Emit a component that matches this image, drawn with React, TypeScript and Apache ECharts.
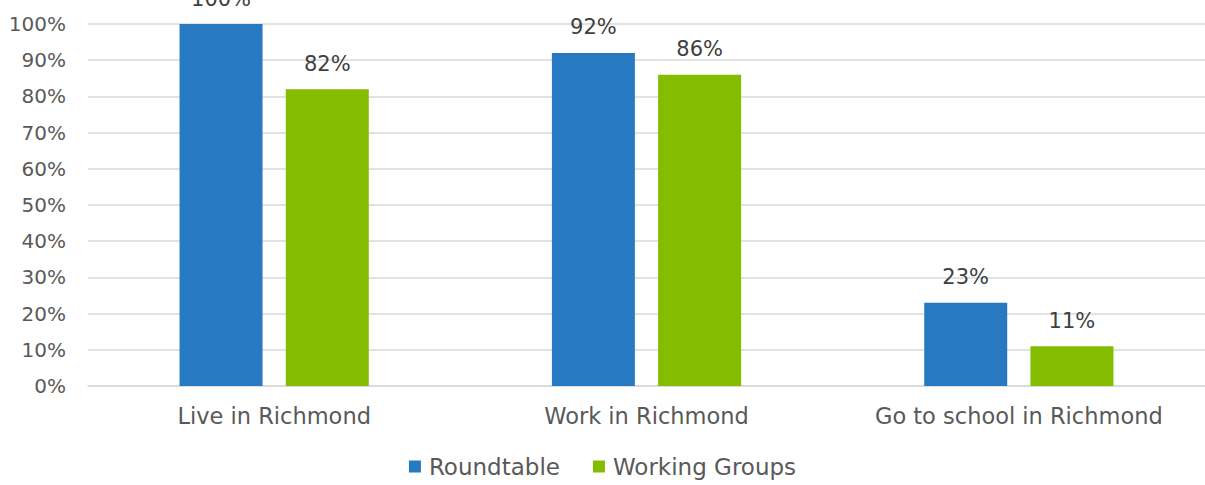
import React, { useEffect, useRef } from "react";
import * as echarts from "echarts";

const categories = ["Live in Richmond", "Work in Richmond", "Go to school in Richmond"];
const roundtable = [100, 92, 23];
const workingGroups = [82, 86, 11];
const seriesNames = ["Roundtable", "Working Groups"];

const FONT = "DejaVu Sans";
const TEXT = "#595959";

export default function App() {
  const ref = useRef<HTMLDivElement>(null);
  useEffect(() => {
    if (!ref.current) return;
    const chart = echarts.init(ref.current, null, { renderer: "svg" });
    const label = {
      show: true,
      position: "top",
      distance: 15,
      formatter: "{c}%",
      color: "#404040",
      fontFamily: FONT,
      fontSize: 21,
    };
    chart.setOption({
      animation: false,
      textStyle: { fontFamily: FONT },
      grid: { left: 88, width: 1121, top: 24, bottom: 99 },
      legend: {
        bottom: 2,
        left: "center",
        itemWidth: 12,
        itemHeight: 12,
        itemGap: 33,
        icon: "rect",
        textStyle: { color: TEXT, fontSize: 23, fontFamily: FONT, padding: [0, 0, 0, 3] },
        data: seriesNames,
      },
      xAxis: {
        type: "category",
        data: categories,
        axisLine: { lineStyle: { color: "#D9D9D9", width: 1.5 } },
        axisTick: { show: false },
        axisLabel: { color: TEXT, fontSize: 22.5, fontFamily: FONT, margin: 18, interval: 0 },
      },
      yAxis: {
        type: "value",
        min: 0,
        max: 100,
        interval: 10,
        axisLine: { show: false },
        axisTick: { show: false },
        splitLine: { lineStyle: { color: "#D9D9D9", width: 1.5 } },
        axisLabel: { color: TEXT, fontSize: 20, fontFamily: FONT, margin: 22, formatter: "{value}%" },
      },
      series: [
        {
          name: seriesNames[0],
          type: "bar",
          data: roundtable,
          barWidth: 83,
          barGap: "28%",
          itemStyle: { color: "#2779C2" },
          label,
        },
        {
          name: seriesNames[1],
          type: "bar",
          data: workingGroups,
          barWidth: 83,
          itemStyle: { color: "#84BC00" },
          label,
        },
      ],
    });
    return () => chart.dispose();
  }, []);
  return (
    <div
      ref={ref}
      style={{ position: "fixed", left: 0, top: 0, width: 1205, height: 485, background: "#fff" }}
    />
  );
}
